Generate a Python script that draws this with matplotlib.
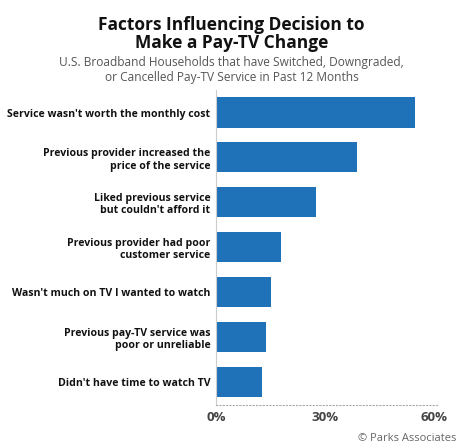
import matplotlib
matplotlib.use("Agg")
import matplotlib.pyplot as plt

labels = ["Service wasn't worth the monthly cost",
          "Previous provider increased the\nprice of the service",
          "Liked previous service\nbut couldn't afford it",
          "Previous provider had poor\ncustomer service",
          "Wasn't much on TV I wanted to watch",
          "Previous pay-TV service was\npoor or unreliable",
          "Didn't have time to watch TV"]
values = [55, 39, 27.6, 18, 15.3, 13.8, 12.6]
ticks = [0, 30, 60]
tick_labels = ["0%", "30%", "60%"]

plt.rcParams['font.family'] = ['Open Sans', 'DejaVu Sans']
fig = plt.figure(figsize=(4.63, 4.48), dpi=100)
ax = fig.add_axes([216/463, 0.097, (439-216)/463, 0.702])
y = list(range(len(values)))
ax.barh(y, values, height=0.67, color="#1f72b8")
ax.set_ylim(len(values)-0.5, -0.5)
ax.set_xlim(0, 61.5)
ax.set_yticks(y)
ax.set_yticklabels(labels, fontsize=7.6, fontweight='bold', color='#111')
ax.set_xticks(ticks)
ax.set_xticklabels(tick_labels, fontsize=9.5, fontweight='bold', color='#444')
ax.tick_params(length=0, pad=5)
ax.tick_params(axis='y', pad=4)
for s in ['top', 'right']:
    ax.spines[s].set_visible(False)
ax.spines['left'].set_color('#cccccc')
ax.spines['bottom'].set_color('#aaaaaa')
ax.spines['bottom'].set_linestyle((0, (1, 2)))
fig.text(0.5, 0.965, "Factors Influencing Decision to\nMake a Pay-TV Change", ha='center', va='top',
         fontsize=12.5, fontweight='bold', color='#111', linespacing=1.0)
fig.text(0.5, 0.875, "U.S. Broadband Households that have Switched, Downgraded,\nor Cancelled Pay-TV Service in Past 12 Months",
         ha='center', va='top', fontsize=8.6, color='#555', linespacing=1.2)
fig.text(0.985, 0.01, "© Parks Associates", ha='right', va='bottom', fontsize=8, color='#666')
fig.savefig("out.png", dpi=100)
